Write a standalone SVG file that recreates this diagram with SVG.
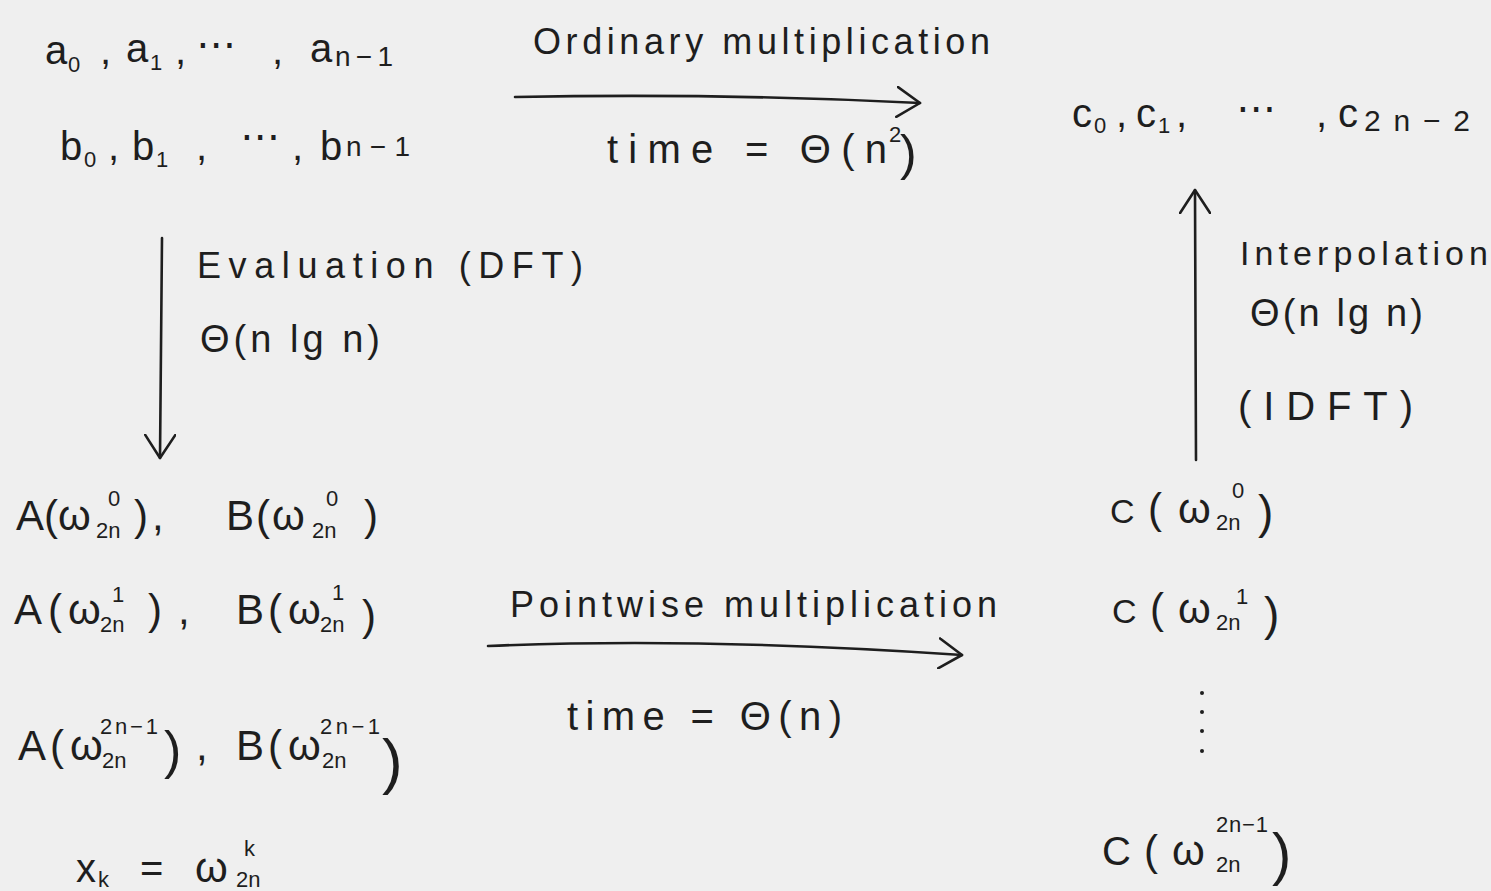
<svg xmlns="http://www.w3.org/2000/svg" width="1491" height="891" viewBox="0 0 1491 891">
<style>
text{font-family:"Liberation Sans","DejaVu Sans",Arial,sans-serif;fill:#1e1e1e}
.m{font-size:40px}
.g{font-size:42px}
.s{font-size:22px}
.l{font-size:36px}
.p{font-size:46px}
.edge{fill:none;stroke:#1e1e1e;stroke-width:2.6;stroke-linecap:round}
.dot{fill:#1e1e1e}
</style>
<defs>
<marker id="head" viewBox="0 0 26 32" refX="24" refY="16" markerWidth="26" markerHeight="32" markerUnits="userSpaceOnUse" orient="auto">
<path d="M1,1 L24,16 L1,31" fill="none" stroke="#1e1e1e" stroke-width="2.6" stroke-linecap="round" stroke-linejoin="round"/>
</marker>
</defs>
<rect width="1491" height="891" fill="#efefef"/>

<g id="node-a">
<text class="m" x="45" y="64">a</text><text class="s" x="68" y="72">0</text>
<text class="m" x="100" y="64">,</text>
<text class="m" x="126" y="62">a</text><text class="s" x="150" y="70">1</text>
<text class="m" x="175" y="64">,</text>
<text class="m" x="196" y="58">⋯</text>
<text class="m" x="272" y="64">,</text>
<text class="m" x="310" y="62">a</text><text x="335" y="66" font-size="28" textLength="58" lengthAdjust="spacing">n−1</text>
</g>

<g id="node-b">
<text class="m" x="60" y="160">b</text><text class="s" x="84" y="167">0</text>
<text class="m" x="108" y="160">,</text>
<text class="m" x="132" y="160">b</text><text class="s" x="156" y="167">1</text>
<text class="m" x="196" y="160">,</text>
<text class="m" x="240" y="150">⋯</text>
<text class="m" x="292" y="160">,</text>
<text class="m" x="320" y="160">b</text><text x="346" y="156" font-size="28" textLength="64" lengthAdjust="spacing">n−1</text>
</g>

<g id="node-c">
<text class="m" x="1072" y="127">c</text><text class="s" x="1094" y="133">0</text>
<text class="m" x="1116" y="127">,</text>
<text class="m" x="1136" y="127">c</text><text class="s" x="1158" y="133">1</text>
<text class="m" x="1176" y="127">,</text>
<text class="m" x="1236" y="122">⋯</text>
<text class="m" x="1316" y="127">,</text>
<text class="m" x="1338" y="127">c</text><text x="1364" y="131" font-size="30" textLength="106" lengthAdjust="spacing">2n−2</text>
</g>

<g id="node-ab0">
<text class="g" x="16" y="530">A</text><text class="g" x="44" y="530">(</text><text class="g" x="58" y="530">ω</text>
<text class="s" x="96" y="538">2n</text><text class="s" x="108" y="506">0</text>
<text class="g" x="134" y="530">)</text><text class="g" x="152" y="530">,</text>
<text class="g" x="226" y="530">B</text><text class="g" x="256" y="530">(</text><text class="g" x="272" y="530">ω</text>
<text class="s" x="312" y="538">2n</text><text class="s" x="326" y="506">0</text>
<text class="g" x="364" y="530">)</text>
</g>

<g id="node-ab1">
<text class="g" x="14" y="624">A</text><text class="g" x="48" y="624">(</text><text class="g" x="68" y="624">ω</text>
<text class="s" x="100" y="632">2n</text><text class="s" x="112" y="602">1</text>
<text class="g" x="148" y="624">)</text><text class="g" x="178" y="624">,</text>
<text class="g" x="236" y="624">B</text><text class="g" x="268" y="624">(</text><text class="g" x="288" y="624">ω</text>
<text class="s" x="320" y="632">2n</text><text class="s" x="332" y="600">1</text>
<text class="g" x="362" y="630" font-size="48">)</text>
</g>

<g id="node-ab2">
<text class="g" x="18" y="760">A</text><text class="g" x="50" y="760">(</text><text class="g" x="70" y="760">ω</text>
<text class="s" x="102" y="768">2n</text><text class="s" x="100" y="734" textLength="58" lengthAdjust="spacing">2n−1</text>
<text x="164" y="768" font-size="52">)</text><text class="g" x="196" y="760">,</text>
<text class="g" x="236" y="760">B</text><text class="g" x="268" y="760">(</text><text class="g" x="288" y="760">ω</text>
<text class="s" x="322" y="768">2n</text><text class="s" x="320" y="734" textLength="60" lengthAdjust="spacing">2n−1</text>
<text x="382" y="782" font-size="62">)</text>
</g>

<g id="node-xk">
<text class="m" x="76" y="882">x</text><text class="s" x="98" y="887">k</text>
<text class="m" x="140" y="882">=</text>
<text class="g" x="195" y="882">ω</text><text class="s" x="244" y="856">k</text><text class="s" x="236" y="887">2n</text>
</g>

<g id="node-c0">
<text x="1110" y="523" font-size="34">C</text><text class="g" x="1148" y="523">(</text><text class="g" x="1178" y="523">ω</text>
<text class="s" x="1216" y="530">2n</text><text class="s" x="1232" y="498">0</text>
<text class="p" x="1258" y="528">)</text>
</g>

<g id="node-c1">
<text x="1112" y="623" font-size="34">C</text><text class="g" x="1150" y="623">(</text><text class="g" x="1178" y="623">ω</text>
<text class="s" x="1216" y="630">2n</text><text class="s" x="1236" y="604">1</text>
<text class="p" x="1264" y="630">)</text>
</g>

<g id="node-vdots">
<circle class="dot" cx="1202" cy="693" r="2"/><circle class="dot" cx="1202" cy="712" r="2"/>
<circle class="dot" cx="1202" cy="731" r="2"/><circle class="dot" cx="1202" cy="751" r="2"/>
</g>

<g id="node-c2">
<text x="1102" y="865" font-size="40">C</text><text class="g" x="1144" y="865">(</text><text class="g" x="1172" y="865">ω</text>
<text class="s" x="1216" y="872">2n</text><text class="s" x="1216" y="832" textLength="52" lengthAdjust="spacing">2n−1</text>
<text x="1272" y="874" font-size="58">)</text>
</g>

<g id="connectors">
<path class="edge" d="M515,97 Q720,93 920,103" marker-end="url(#head)"/>
<path class="edge" d="M162,238 L160,458" marker-end="url(#head)"/>
<path class="edge" d="M1196,460 L1195,190" marker-end="url(#head)"/>
<path class="edge" d="M488,646 Q700,637 962,655" marker-end="url(#head)"/>
</g>

<g id="labels">
<text class="l" x="533" y="54" textLength="457" lengthAdjust="spacing">Ordinary multiplication</text>
<text class="m" x="607" y="163" textLength="280" lengthAdjust="spacing">time = Θ(n</text>
<text class="s" x="889" y="142">2</text>
<text x="900" y="170" font-size="50">)</text>
<text class="l" x="197" y="278" textLength="386" lengthAdjust="spacing">Evaluation (DFT)</text>
<text x="200" y="352" font-size="38" textLength="180" lengthAdjust="spacing">Θ(n lg n)</text>
<text x="1240" y="265" font-size="34" textLength="248" lengthAdjust="spacing">Interpolation</text>
<text x="1250" y="326" font-size="38" textLength="173" lengthAdjust="spacing">Θ(n lg n)</text>
<text class="m" x="1238" y="420" textLength="175" lengthAdjust="spacing">(IDFT)</text>
<text class="l" x="510" y="617" textLength="487" lengthAdjust="spacing">Pointwise multiplication</text>
<text class="m" x="567" y="730" textLength="275" lengthAdjust="spacing">time = Θ(n)</text>
</g>
</svg>
